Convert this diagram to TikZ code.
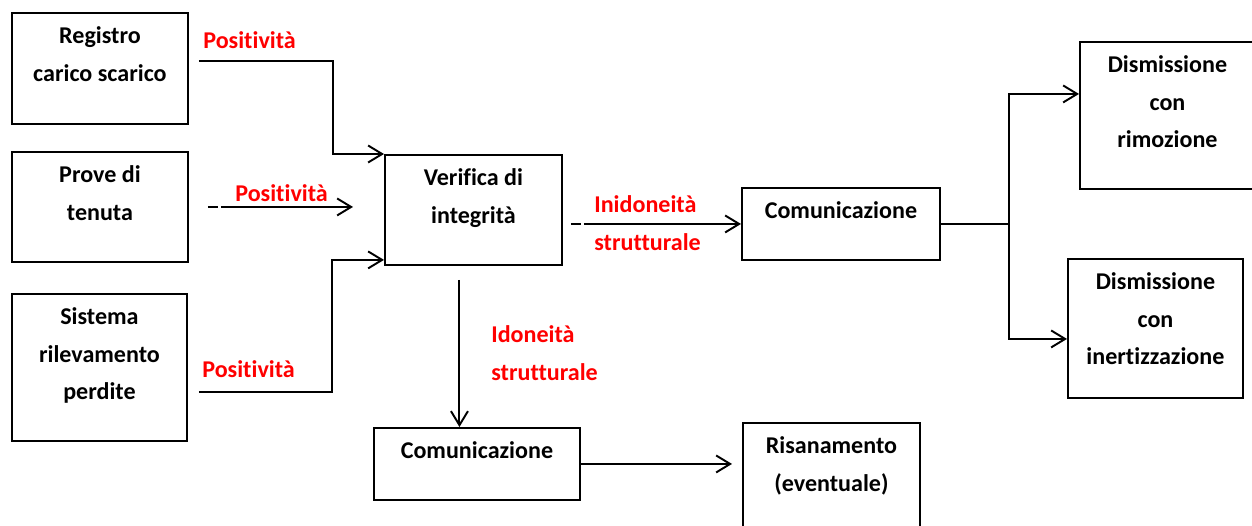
\documentclass[tikz,border=0pt]{standalone}
\usepackage{fontspec}
\setmainfont{Carlito}[Ligatures={NoCommon}]
\usepackage{xcolor}
\usetikzlibrary{arrows.meta, positioning}

\tikzset{
    box/.style 2 args = {draw, line width=1.1pt, anchor=north west, inner sep=0pt,
        align=flush center, text width=#1, text height=0.62cm, text depth=#2,
        font=\bfseries\fontsize{13.7}{21.3}\selectfont},
    lbl/.style = {text=red, inner sep=0pt, align=flush left,
        font=\bfseries\fontsize{13.7}{21.3}\selectfont},
    arr/.style = {line width=1.1pt, -{Straight Barb[length=2.8mm, width=3.4mm]}},
    dashstart/.style = {dash pattern=on 0.2cm off 0.06cm on 20cm off 1cm}
}

\begin{document}
\begin{tikzpicture}[x=0.02cm, y=-0.02cm]
    \useasboundingbox (0,0) rectangle (1252,526);
    \clip (0,0) rectangle (1252,526);

    % boxes
    \node[box={3.52cm}{1.6cm}] (reg) at (11,12) {Registro\\carico scarico};
    \node[box={3.52cm}{1.58cm}] (prove) at (11,151) {Prove di\\tenuta};
    \node[box={3.5cm}{2.32cm}] (sis) at (11,293) {Sistema\\rilevamento\\perdite};
    \node[box={3.54cm}{1.58cm}] (ver) at (384,154) {Verifica di\\integrità};
    \node[box={3.96cm}{0.82cm}] (comA) at (741,187) {Comunicazione};
    \node[box={3.5cm}{2.32cm}] (dimA) at (1079,41) {Dismissione\\con\\rimozione};
    \node[box={3.5cm}{2.16cm}] (dimB) at (1067,258) {Dismissione\\con\\inertizzazione};
    \node[box={4.12cm}{0.82cm}] (comB) at (373,427) {Comunicazione};
    \node[box={3.54cm}{2.32cm}] (ris) at (742,422) {Risanamento\\(eventuale)};

    % free ends
    \coordinate (regout) at ([shift={(10,-7.5)}]reg.east);
    \coordinate (sisout) at ([shift={(11,24.5)}]sis.east);
    \coordinate (proveout) at ([shift={(19,0)}]prove.east);
    \coordinate (provein) at ([shift={(-31,0)}]ver.west |- prove.east);
    \coordinate (verout) at ([shift={(8,0)}]ver.east |- comA.west);
    \coordinate (verdown) at ([shift={(-14,14)}]ver.south);

    % connectors
    \draw[arr] (regout) -| ([shift={(-51,0)}]ver.north west) -- (ver.north west);
    \draw[arr, dashstart] (proveout) -- (provein);
    \draw[arr] (sisout) -| ([shift={(-52,-6)}]ver.south west) -- ([shift={(0,-6)}]ver.south west);
    \draw[arr, dashstart] (verout) -- (comA.west);
    \draw[arr] (comA.east) -- ++(68,0) coordinate (fork) |- ([shift={(0,-21.5)}]dimA.west);
    \draw[arr] (fork) |- ([shift={(0,10.5)}]dimB.west);
    \draw[arr] (verdown) -- (verdown |- comB.north);
    \draw[arr] (comB.east) -- ([shift={(-10,0)}]ris.west |- comB.east);

    % labels
    \node[lbl, anchor=base west] (posreg) at (203,49) {Positività};
    \node[lbl, anchor=base west] (posprove) at (235,202) {Positività};
    \node[lbl, anchor=base west] (possis) at (202,378) {Positività};
    \node[lbl, anchor=base west, text width=2.4cm] (inid) at (594,213) {Inidoneità\\strutturale};
    \node[lbl, anchor=base west, text width=2.4cm] (idon) at (491,343) {Idoneità\\strutturale};
\end{tikzpicture}
\end{document}
